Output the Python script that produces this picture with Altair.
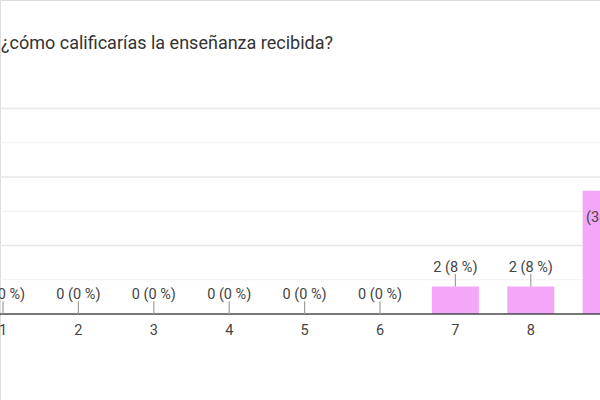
import altair as alt
import pandas as pd

title_text = "¿cómo calificarías la enseñanza recibida?"
categories = [1, 2, 3, 4, 5, 6, 7, 8, 9, 10]
counts = [0, 0, 0, 0, 0, 0, 2, 2, 9, 12]
percents = [0, 0, 0, 0, 0, 0, 8, 8, 36, 48]
major_grid = [5, 10, 15]
minor_grid = [2.5, 7.5, 12.5]

df = pd.DataFrame({"cat": categories, "count": counts, "pct": percents})
df["label"] = [f"{c} ({p} %)" for c, p in zip(counts, percents)]
df["inside"] = [c >= 5 for c in counts]

X_DOMAIN = [0.96, 8.918]
Y_DOMAIN = [-6.277, 22.92]
FONT = "Roboto"

x = alt.X("cat:Q", scale=alt.Scale(domain=X_DOMAIN, nice=False, zero=False), axis=None)
y_scale = alt.Scale(domain=Y_DOMAIN, nice=False, zero=False)

base = alt.Chart(df)

grid_major = alt.Chart(pd.DataFrame({"g": major_grid})).mark_rule(
    color="#e6e6e6", strokeWidth=1.3
).encode(y=alt.Y("g:Q", scale=y_scale, axis=None))
grid_minor = alt.Chart(pd.DataFrame({"g": minor_grid})).mark_rule(
    color="#f1f1f1", strokeWidth=1
).encode(y=alt.Y("g:Q", scale=y_scale, axis=None))

bars = base.transform_filter("datum.count > 0").transform_calculate(
    lo="datum.cat - 0.312", hi="datum.cat + 0.312"
).mark_bar(color="#f4a7f9").encode(
    x=alt.X("lo:Q", scale=alt.Scale(domain=X_DOMAIN, nice=False, zero=False), axis=None),
    x2="hi:Q",
    y=alt.Y("count:Q", scale=y_scale, axis=None),
    y2=alt.datum(0),
)

baseline = alt.Chart(pd.DataFrame({"b": [0]})).mark_rule(
    color="#4a4a4a", strokeWidth=1.6
).encode(y=alt.Y("b:Q", scale=y_scale, axis=None))

leaders = base.transform_filter("!datum.inside").transform_calculate(
    top="datum.count + 0.93"
).mark_rule(color="#9e9e9e", strokeWidth=1.2).encode(
    x=x,
    y=alt.Y("count:Q", scale=y_scale, axis=None),
    y2="top:Q",
)

labels = base.transform_filter("!datum.inside").mark_text(
    font=FONT, fontSize=14.5, color="#444444", baseline="middle", dy=-19
).encode(
    x=x,
    y=alt.Y("count:Q", scale=y_scale, axis=None),
    text="label:N",
)

inside_labels = base.transform_filter("datum.inside").transform_calculate(
    txt="datum.count + '\\n(' + datum.pct + ' %)'"
).mark_text(
    font=FONT, fontSize=14.5, color="#444444", baseline="top", dy=2, lineBreak="\n", lineHeight=18
).encode(
    x=x,
    y=alt.Y("count:Q", scale=y_scale, axis=None),
    text="txt:N",
)

tick_labels = base.mark_text(
    font=FONT, fontSize=14.5, color="#444444", baseline="middle"
).encode(
    x=x,
    y=alt.value(331),
    text="cat:N",
)

title = alt.Chart(pd.DataFrame({"t": [title_text]})).mark_text(
    font=FONT, fontSize=18, color="#333333", align="left", baseline="middle"
).encode(
    x=alt.value(1),
    y=alt.value(44),
    text="t:N",
)

chart = alt.layer(
    grid_minor, grid_major, bars, baseline, leaders, labels, inside_labels, tick_labels, title
).properties(
    width=600, height=400,
    autosize=alt.AutoSizeParams(type="none"),
    padding=0,
).configure_view(stroke=None).configure(background="white")

chart.save("out.html", embed_options={"renderer": "svg", "actions": False})
